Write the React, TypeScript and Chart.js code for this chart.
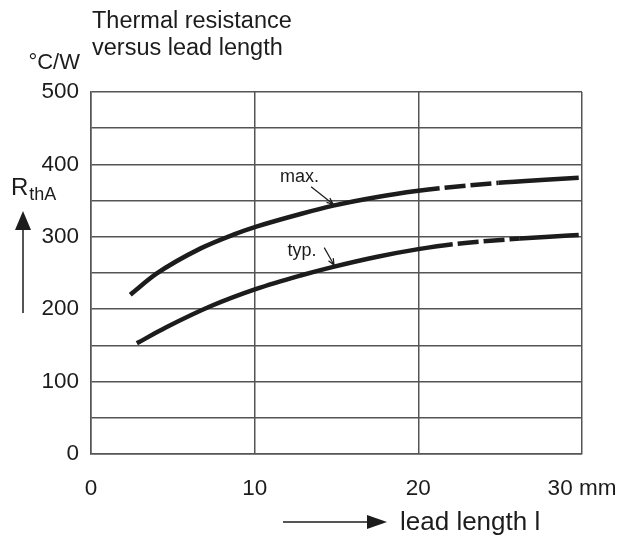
import React, { useEffect, useRef } from 'react';
import { Chart, registerables } from 'chart.js';

Chart.register(...registerables);

// ---- data ----
const maxLengths = [2.4, 4.0, 6.7, 8.7, 10.1, 12.8, 14.8, 17.5, 20.0, 21.3, 24.9, 27.5, 29.8];
const maxValues = [220, 249, 284, 303, 314, 331.5, 343, 355, 363.5, 367, 374.5, 378.5, 381.5];
const typLengths = [2.8, 4.6, 7.3, 10.1, 12.8, 14.8, 17.5, 20.0, 22.1, 26.2, 28.0, 29.8];
const typValues = [153, 175, 204, 228, 246.5, 258.5, 272.5, 283, 289.8, 297.5, 300.2, 302.5];
const maxDashed = [21.3, 24.9];
const typDashed = [22.1, 26.2];
const seriesNames = ['max.', 'typ.'];
const xTickValues = [0, 10, 20, 30];
const xTickLabels = ['0', '10', '20', '30 mm'];
const yLabelTicks = [0, 100, 200, 300, 400, 500];
const titleLines = ['Thermal resistance', 'versus lead length'];
const yUnit = '°C/W';
const xAxisTitle = 'lead length l';

const FONT = "'Liberation Sans', Arial, Helvetica, sans-serif";
const INK = '#1c1c1c';
const GRID = '#555555';

function toPoints(xs: number[], ys: number[]) {
  return xs.map((x, i) => ({ x, y: ys[i] }));
}

function openArrow(ctx: CanvasRenderingContext2D, x1: number, y1: number, x2: number, y2: number) {
  ctx.beginPath();
  ctx.moveTo(x1, y1);
  ctx.lineTo(x2, y2);
  const a = Math.atan2(y2 - y1, x2 - x1);
  const L = 7;
  ctx.moveTo(x2 - L * Math.cos(a - 0.4), y2 - L * Math.sin(a - 0.4));
  ctx.lineTo(x2, y2);
  ctx.lineTo(x2 - L * Math.cos(a + 0.4), y2 - L * Math.sin(a + 0.4));
  ctx.stroke();
}

const decorPlugin = {
  id: 'decor',
  afterDraw(chart: any) {
    const ctx: CanvasRenderingContext2D = chart.ctx;
    const xs = chart.scales.x;
    const ys = chart.scales.y;
    const area = chart.chartArea;
    ctx.save();
    ctx.fillStyle = INK;
    ctx.strokeStyle = INK;

    // title
    ctx.font = `23.5px ${FONT}`;
    ctx.textAlign = 'left';
    ctx.textBaseline = 'alphabetic';
    ctx.fillText(titleLines[0], area.left + 1, 28);
    ctx.fillText(titleLines[1], area.left + 1, 55);

    // unit
    ctx.font = `22px ${FONT}`;
    ctx.textAlign = 'right';
    ctx.fillText(yUnit, area.left - 11, 69);

    // R_thA
    ctx.textAlign = 'left';
    ctx.font = `24px ${FONT}`;
    ctx.fillText('R', 11, 195);
    const rw = ctx.measureText('R').width;
    ctx.font = `18px ${FONT}`;
    ctx.fillText('thA', 11 + rw + 1, 200);

    // vertical arrow
    ctx.lineWidth = 1.5;
    ctx.beginPath();
    ctx.moveTo(23, 313);
    ctx.lineTo(23, 226);
    ctx.stroke();
    ctx.beginPath();
    ctx.moveTo(23, 211);
    ctx.lineTo(15, 230);
    ctx.lineTo(31, 230);
    ctx.closePath();
    ctx.fill();

    // horizontal arrow + axis title
    ctx.beginPath();
    ctx.moveTo(283, 522);
    ctx.lineTo(372, 522);
    ctx.stroke();
    ctx.beginPath();
    ctx.moveTo(387, 522);
    ctx.lineTo(367, 515);
    ctx.lineTo(367, 529);
    ctx.closePath();
    ctx.fill();
    ctx.font = `26px ${FONT}`;
    ctx.textAlign = 'left';
    ctx.fillText(xAxisTitle, 400, 530);

    // curve annotations
    ctx.font = `18px ${FONT}`;
    ctx.textBaseline = 'middle';
    ctx.fillText(seriesNames[0], xs.getPixelForValue(11.55), ys.getPixelForValue(383));
    ctx.fillText(seriesNames[1], xs.getPixelForValue(12.0), ys.getPixelForValue(281));
    ctx.lineWidth = 1.2;
    openArrow(ctx, xs.getPixelForValue(13.45), ys.getPixelForValue(369), xs.getPixelForValue(14.8), ys.getPixelForValue(345));
    openArrow(ctx, xs.getPixelForValue(14.25), ys.getPixelForValue(285), xs.getPixelForValue(14.85), ys.getPixelForValue(261));

    ctx.restore();
  },
};

function dashSegment(range: number[]) {
  return {
    borderDash: (c: any) =>
      c.p0.parsed.x >= range[0] - 1e-6 && c.p1.parsed.x <= range[1] + 1e-6 ? [21, 5] : undefined,
    borderDashOffset: (c: any) =>
      c.p0.parsed.x >= range[0] - 1e-6 && c.p1.parsed.x <= range[1] + 1e-6 ? 21 : undefined,
  };
}

export default function App() {
  const ref = useRef<HTMLCanvasElement>(null);

  useEffect(() => {
    if (!ref.current) return;
    const chart = new Chart(ref.current, {
      type: 'line',
      data: {
        datasets: [
          {
            label: seriesNames[0],
            data: toPoints(maxLengths, maxValues),
            borderColor: INK,
            borderWidth: 4.5,
            pointRadius: 0,
            cubicInterpolationMode: 'monotone',
            borderCapStyle: 'butt',
            segment: dashSegment(maxDashed),
          },
          {
            label: seriesNames[1],
            data: toPoints(typLengths, typValues),
            borderColor: INK,
            borderWidth: 4.5,
            pointRadius: 0,
            cubicInterpolationMode: 'monotone',
            borderCapStyle: 'butt',
            segment: dashSegment(typDashed),
          },
        ],
      },
      options: {
        responsive: false,
        animation: false,
        layout: { padding: { left: 0, right: 39, top: 92, bottom: 0 } },
        plugins: { legend: { display: false }, tooltip: { enabled: false }, title: { display: false } },
        scales: {
          x: {
            type: 'linear',
            min: 0,
            max: 30,
            afterFit: (s: any) => { s.height = 81; s.paddingLeft = 0; s.paddingRight = 0; },
            afterBuildTicks: (s: any) => { s.ticks = xTickValues.map((v) => ({ value: v })); },
            ticks: {
              autoSkip: false,
              maxRotation: 0,
              padding: 21,
              color: INK,
              font: { family: FONT, size: 22.5 },
              callback: (v: any) => {
                const i = xTickValues.indexOf(Number(v));
                return i >= 0 ? xTickLabels[i] : '';
              },
            },
            grid: { color: GRID, lineWidth: 1.5, drawTicks: false },
            border: { color: GRID, width: 1.5 },
          },
          y: {
            type: 'linear',
            min: 0,
            max: 500,
            afterFit: (s: any) => { s.width = 91; s.paddingTop = 0; s.paddingBottom = 0; },
            ticks: {
              stepSize: 50,
              autoSkip: false,
              padding: 12,
              color: INK,
              font: { family: FONT, size: 22.5 },
              callback: (v: any) => (yLabelTicks.includes(Number(v)) ? String(v) : ''),
            },
            grid: { color: GRID, lineWidth: 1.5, drawTicks: false },
            border: { color: GRID, width: 1.5 },
          },
        },
      },
      plugins: [decorPlugin],
    } as any);
    return () => chart.destroy();
  }, []);

  return (
    <div style={{ position: 'fixed', left: 0, top: 0, width: 621, height: 535, background: '#fff' }}>
      <canvas ref={ref} width={621} height={535} style={{ display: 'block' }} />
    </div>
  );
}
